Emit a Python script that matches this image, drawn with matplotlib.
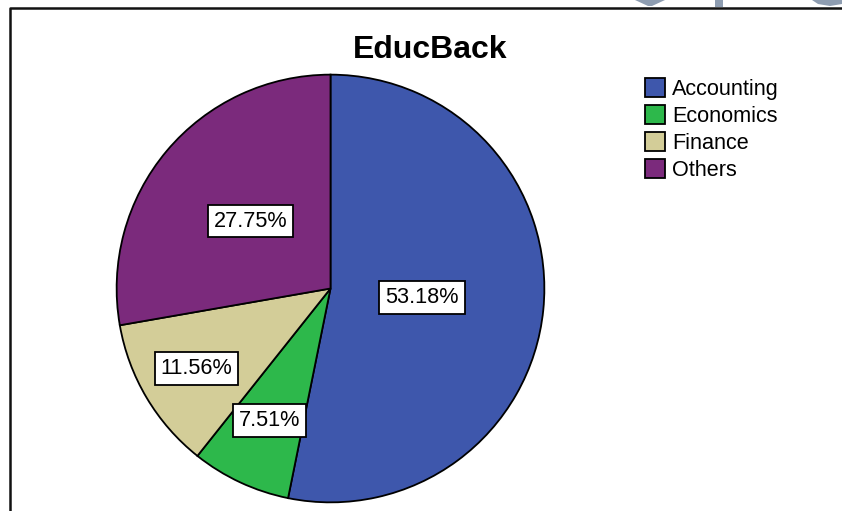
import matplotlib
matplotlib.use('Agg')
import matplotlib.pyplot as plt
import numpy as np
from matplotlib.lines import Line2D
from matplotlib.patches import Polygon

plt.rcParams['font.family'] = ['Liberation Sans', 'DejaVu Sans']

categories = ['Accounting', 'Economics', 'Finance', 'Others']
percents = [53.18, 7.51, 11.56, 27.75]
colors = ['#3e57ac', '#2db84b', '#d3cd98', '#7b2a7c']
# radial position of each percentage box, as a fraction of the radius
label_radius = [0.43, 0.68, 0.73, 0.49]

W, H = 842, 511
fig = plt.figure(figsize=(W / 100, H / 100), dpi=100)


def px(x, y):
    """pixel position (from top-left) -> figure fraction"""
    return x / W, 1 - y / H


# pie axes: centre (330.5, 288.5), radius 216 px
cx, cy, r = 330.5, 288.5, 216
ax = fig.add_axes([(cx - r) / W, (H - cy - r) / H, 2 * r / W, 2 * r / H])
wedges, _ = ax.pie(percents, colors=colors, startangle=90, counterclock=False,
                   radius=1, wedgeprops=dict(edgecolor='black', linewidth=1.3))
ax.set_xlim(-1.01, 1.01)
ax.set_ylim(-1.01, 1.01)
ax.set_aspect('equal')
ax.axis('off')

# percentage labels in white boxes
for w, p, lr in zip(wedges, percents, label_radius):
    ang = np.deg2rad((w.theta1 + w.theta2) / 2)
    ax.text(lr * np.cos(ang), lr * np.sin(ang), '%.2f%%' % p,
            ha='center', va='center', fontsize=15.6,
            bbox=dict(boxstyle='square,pad=0.27', facecolor='white',
                      edgecolor='black', linewidth=1.3))

# title
tx, ty = px(430, 50)
fig.text(tx, ty, 'EducBack', ha='center', va='center',
         fontsize=23, fontweight='bold')

# legend
handles = [plt.Rectangle((0, 0), 1, 1, facecolor=c, edgecolor='black',
                         linewidth=1.3) for c in colors]
lx, ly = px(645, 78)
fig.legend(handles, categories, loc='upper left', bbox_to_anchor=(lx, ly),
           frameon=False, fontsize=15.6, handlelength=0.92, handleheight=0.95,
           handletextpad=0.32, labelspacing=0.24, borderpad=0,
           borderaxespad=0)

# chart border (left and top edges)
fig.add_artist(Line2D([10 / W, 10 / W, 1], [0, 1 - 8 / H, 1 - 8 / H],
                      transform=fig.transFigure, color='#111111',
                      linewidth=1.8))

# grey shapes along the top edge
grey = '#8e9db1'
shapes = [
    [(635, 0), (665, 0), (652, 6), (648, 6)],
    [(715, 0), (723, 0), (723, 7), (715, 7)],
    [(812, 0), (842, 0), (842, 4), (830, 6), (818, 4)],
]
for s in shapes:
    fig.add_artist(Polygon([px(x, y) for x, y in s], closed=True,
                           transform=fig.transFigure, facecolor=grey,
                           edgecolor='none', zorder=0))

fig.savefig('out.png', dpi=100)
